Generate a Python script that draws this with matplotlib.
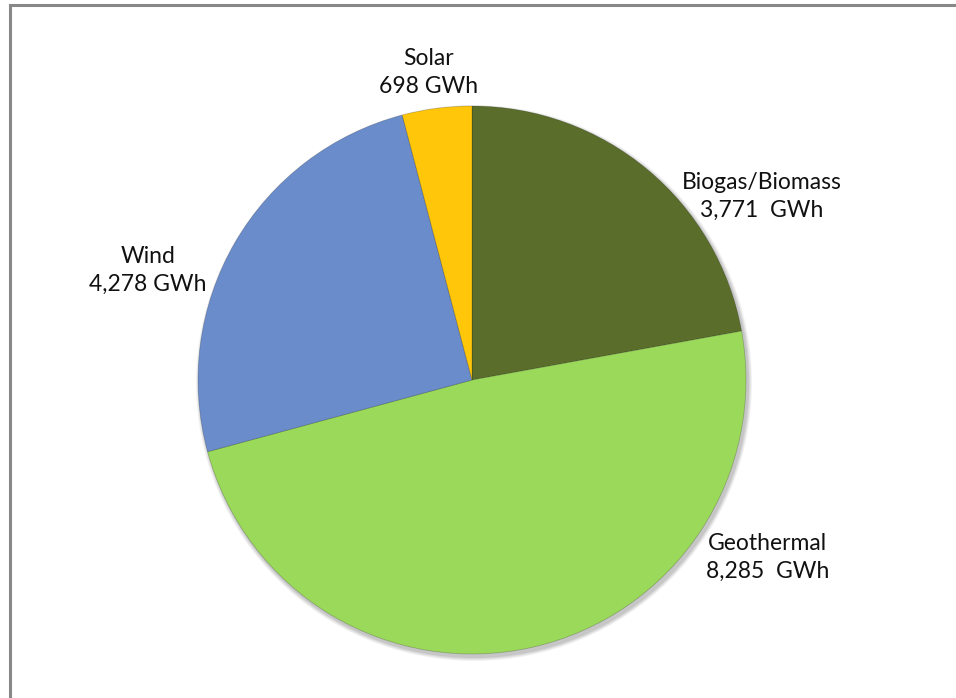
import matplotlib
matplotlib.use("Agg")
import matplotlib.pyplot as plt
from matplotlib.patches import Rectangle, Circle

# Renewable generation by source (GWh), clockwise from 12 o'clock
sources = ["Biogas/Biomass", "Geothermal", "Wind", "Solar"]
gwh = [3771, 8285, 4278, 698]
value_text = ["3,771  GWh", "8,285  GWh", "4,278 GWh", "698 GWh"]
colors = ["#5a6d2b", "#9ad95a", "#6a8ccb", "#ffc60a"]

# label anchor points in figure fractions
label_pos = [(0.797, 0.718), (0.803, 0.201), (0.155, 0.612), (0.448, 0.896)]

W, H = 956, 698
CX, CY, R = 472, H - 380, 274

fig = plt.figure(figsize=(W / 100, H / 100), dpi=100, facecolor="white")
ax = fig.add_axes([0, 0, 1, 1])

# chart frame: only the left and top edges fall inside the canvas
ax.add_patch(Rectangle((10, -10), W + 20, H + 5, fill=False,
                       edgecolor="#888888", linewidth=2.2, zorder=0))

# soft drop shadow under the pie
for i, a in enumerate([0.05, 0.05, 0.06, 0.08]):
    ax.add_patch(Circle((CX + 2, CY - 3), R + 4 - i, color="black",
                        alpha=a, linewidth=0, zorder=1))

ax.pie(
    gwh, colors=colors, startangle=90, counterclock=False,
    center=(CX, CY), radius=R, frame=True,
    wedgeprops=dict(linewidth=0.6, edgecolor=(0, 0, 0, 0.2), zorder=2),
)
ax.set_xlim(0, W)
ax.set_ylim(0, H)
ax.set_aspect("auto")
ax.axis("off")

for name, txt, (fx, fy) in zip(sources, value_text, label_pos):
    fig.text(fx, fy, f"{name}\n{txt}", ha="center", va="center",
             fontsize=16.5, family="Lato", linespacing=1.4, color="#111111")

fig.savefig("out.png", dpi=100, facecolor="white")
